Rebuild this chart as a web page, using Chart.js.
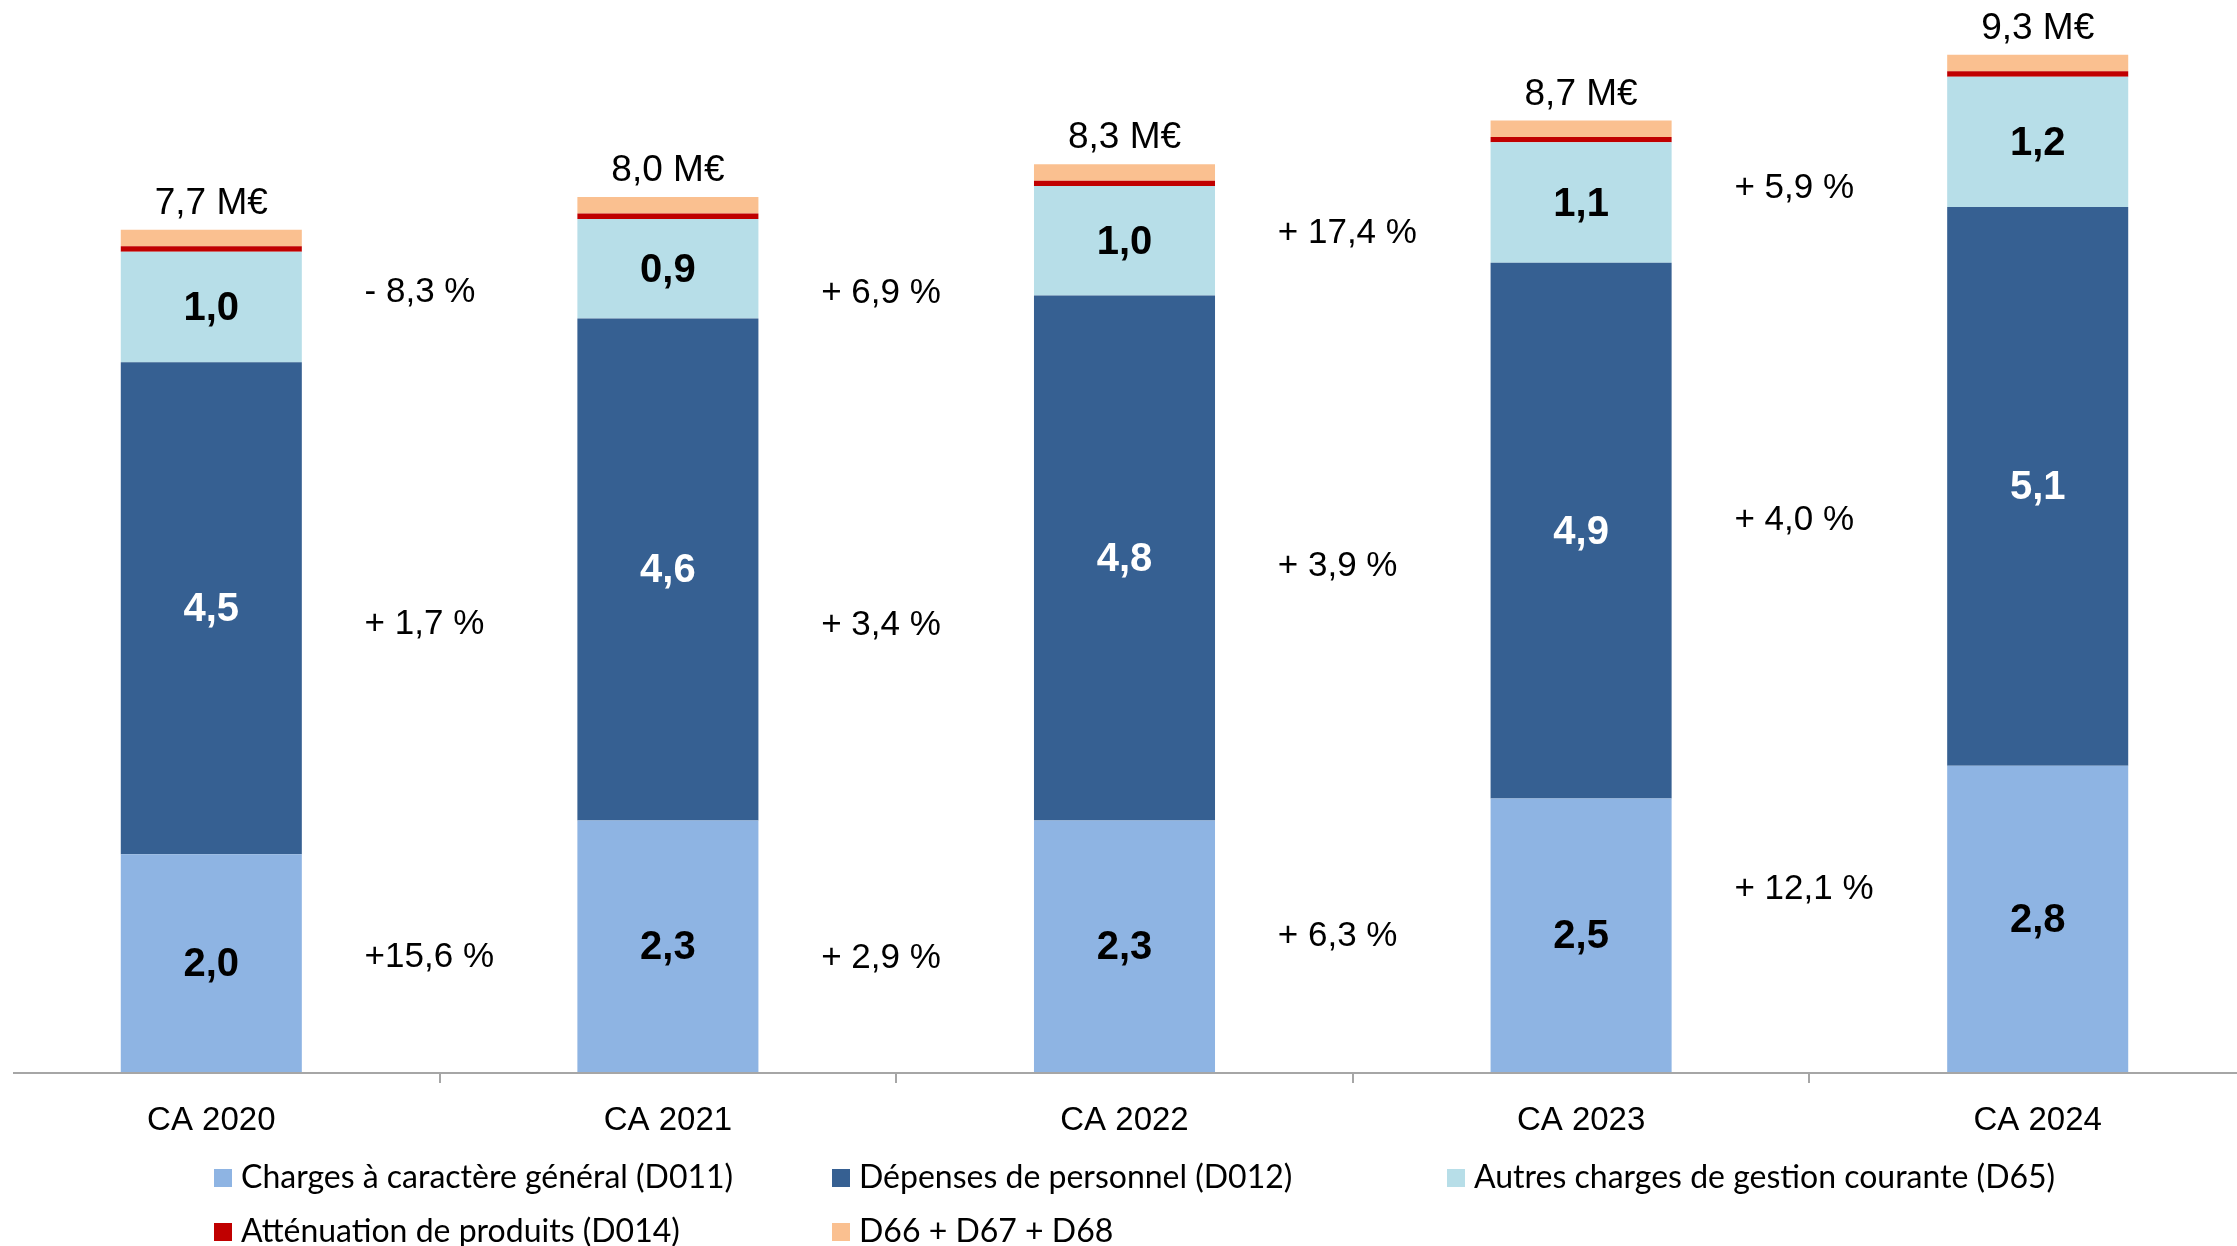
<!DOCTYPE html>
<html><head><meta charset="utf-8">
<script src="https://cdn.jsdelivr.net/npm/chart.js@4.4.1/dist/chart.umd.min.js"></script>
<style>
html,body{margin:0;padding:0;background:#fff;overflow:hidden;width:2237px;height:1246px;}
#c{position:absolute;left:-17px;top:0;}
</style></head><body>
<canvas id="c" width="2283" height="1246"></canvas>
<script>
const categories = ['CA 2020', 'CA 2021', 'CA 2022', 'CA 2023', 'CA 2024'];
const d011 = [1.99, 2.30, 2.30, 2.50, 2.80];
const d012 = [4.50, 4.59, 4.80, 4.90, 5.11];
const d65  = [1.01, 0.91, 1.00, 1.10, 1.19];
const d014 = [0.05, 0.05, 0.05, 0.05, 0.05];
const d66  = [0.15, 0.15, 0.15, 0.15, 0.15];
const seriesLabels = ['Charges à caractère général (D011)', 'Dépenses de personnel (D012)',
  'Autres charges de gestion courante (D65)', 'Atténuation de produits (D014)', 'D66 + D67 + D68'];
const growthD011 = ['+15,6 %', '+ 2,9 %', '+ 6,3 %', '+ 12,1 %'];
const growthD012 = ['+ 1,7 %', '+ 3,4 %', '+ 3,9 %', '+ 4,0 %'];
const growthD65  = ['- 8,3 %', '+ 6,9 %', '+ 17,4 %', '+ 5,9 %'];
// vertical placement of the growth labels (chart value units)
const growthLevelD011 = [1.05, 1.04, 1.24, 1.67];
const growthLevelD012 = [4.09, 4.08, 4.62, 5.04];
const growthLevelD65  = [7.13, 7.12, 7.67, 8.08];

const colors = ['#8EB4E3', '#366092', '#B7DEE8', '#C00000', '#FAC090'];
const fmt = v => v.toFixed(1).replace('.', ',');

const labelPlugin = {
  id: 'labels',
  afterDatasetsDraw(chart) {
    const ctx = chart.ctx, ys = chart.scales.y;
    ctx.save();
    ctx.textAlign = 'center'; ctx.textBaseline = 'middle';
    ctx.font = 'bold 40px "Liberation Sans", Arial, sans-serif';
    [[0, '#000'], [1, '#fff'], [2, '#000']].forEach(([di, col]) => {
      chart.getDatasetMeta(di).data.forEach((el, i) => {
        ctx.fillStyle = col;
        ctx.fillText(fmt(chart.data.datasets[di].data[i]), el.x, (el.y + el.base) / 2 + 2);
      });
    });
    ctx.font = '37px "Liberation Sans", Arial, sans-serif';
    ctx.fillStyle = '#000';
    chart.getDatasetMeta(4).data.forEach((el, i) => {
      const total = chart.data.datasets.reduce((s, d) => s + d.data[i], 0);
      ctx.fillText(fmt(total) + ' M€', el.x, el.y - 26);
    });
    ctx.font = '35px "Liberation Sans", Arial, sans-serif';
    ctx.textAlign = 'left';
    const m0 = chart.getDatasetMeta(0).data;
    [[growthD011, growthLevelD011], [growthD012, growthLevelD012], [growthD65, growthLevelD65]].forEach(([txt, lv]) => {
      txt.forEach((t, i) => {
        const xb = (m0[i].x + m0[i + 1].x) / 2;
        ctx.fillText(t, xb - 75, ys.getPixelForValue(lv[i]));
      });
    });
    ctx.restore();
  },
  afterDraw(chart) {
    const ctx = chart.ctx, ca = chart.chartArea;
    ctx.save();
    ctx.strokeStyle = '#A6A6A6'; ctx.lineWidth = 2;
    ctx.beginPath(); ctx.moveTo(30, ca.bottom + 1); ctx.lineTo(chart.width, ca.bottom + 1); ctx.stroke();
    // legend
    const colX = [231, 849, 1464], rowY = [1178, 1232];
    ctx.font = '32px Lato, "Liberation Sans", sans-serif';
    ctx.textBaseline = 'middle'; ctx.textAlign = 'left';
    chart.data.datasets.forEach((ds, i) => {
      const x = colX[i % 3], y = rowY[Math.floor(i / 3)];
      ctx.fillStyle = ds.backgroundColor;
      ctx.fillRect(x, y - 9, 18, 18);
      ctx.fillStyle = '#000';
      ctx.fillText(ds.label, x + 27, y);
    });
    ctx.restore();
  }
};

new Chart(document.getElementById('c'), {
  type: 'bar',
  data: {
    labels: categories,
    datasets: [d011, d012, d65, d014, d66].map((d, i) => ({
      label: seriesLabels[i], data: d, backgroundColor: colors[i],
      borderWidth: 0, barPercentage: 0.3965, categoryPercentage: 1
    }))
  },
  options: {
    responsive: false, animation: false, devicePixelRatio: 1,
    layout: { padding: { top: 33, left: 0, right: 0, bottom: 0 } },
    plugins: { legend: { display: false }, tooltip: { enabled: false } },
    scales: {
      x: {
        stacked: true,
        afterFit: s => { s.height = 174; },
        border: { display: false },
        grid: { offset: true, drawOnChartArea: false, drawTicks: true, tickLength: 11, color: '#A6A6A6', lineWidth: 2 },
        ticks: { color: '#000', padding: 18, font: { family: '"Liberation Sans", Arial, sans-serif', size: 33 } }
      },
      y: { stacked: true, display: false, min: 0, max: 9.5 }
    }
  },
  plugins: [labelPlugin]
});
</script>
</body></html>
